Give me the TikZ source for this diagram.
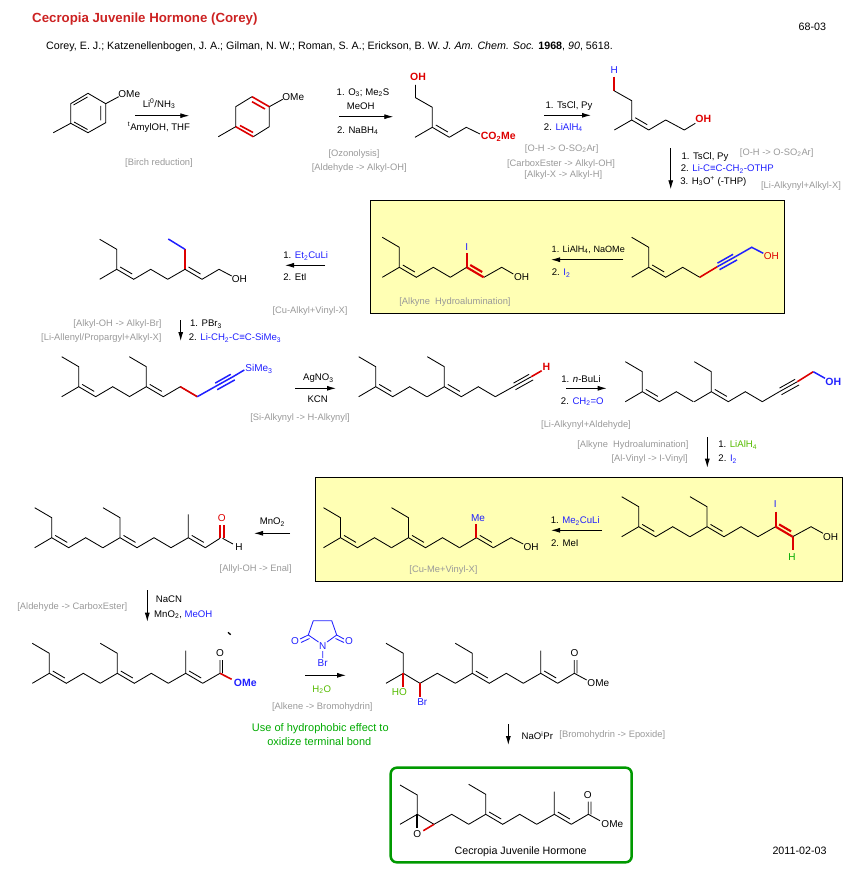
\documentclass[tikz,border=0pt]{standalone}
\usepackage{fontspec}
\setmainfont{Liberation Sans}
\usetikzlibrary{arrows.meta}
\definecolor{chemred}{HTML}{DD0000}
\definecolor{titlered}{HTML}{CC2222}
\definecolor{chemblue}{HTML}{2020FF}
\definecolor{chemgreen}{HTML}{00AA00}
\definecolor{limegreen}{HTML}{55BB00}
\definecolor{tagcol}{HTML}{999999}
\definecolor{boxyellow}{HTML}{FFFFB4}
\tikzset{
  bond/.style={line width=0.85pt,black},
  redbond/.style={line width=2.1pt,chemred},
  bluebond/.style={line width=1.5pt,chemblue},
  rxn/.style={line width=0.85pt,-{Latex[length=9pt,width=5pt]}},
  txt/.style={font=\fontsize{9.6}{11}\selectfont,inner sep=0pt,text height=7pt,text depth=0pt},
  bigtxt/.style={txt,font=\fontsize{10.7}{12}\selectfont},
  tag/.style={txt,font=\fontsize{9.35}{11}\selectfont,text=tagcol},
  atom/.style={txt,font=\fontsize{10}{11}\selectfont},
  boldatom/.style={txt,font=\fontsize{10.5}{11}\selectfont\bfseries},
  pics/prenyl/.style={code={
    \draw[bond] (-17,-30) -- (0,-20) -- (0,0) -- (17,10) -- (34,0) -- (51,10) (-17,10) -- (0,0) (3.5,-2.3) -- (15.5,4.7);}},
  pics/ene/.style={code={\draw[#1] (0,0) -- (17,10) (3.5,-2.3) -- (15.5,4.7);}},
  pics/ene/.default=bond,
  pics/yne/.style={code={\draw[#1] (0,0) -- (18,-10) (0.2,-3.6) -- (15.8,-12.4) (2.2,3) -- (19.8,-6.8);}},
  pics/yne/.default=bond,
}
\begin{document}
\begin{tikzpicture}[x=1pt,y=-1pt]
\useasboundingbox (0,0) rectangle (854,869);
% boxes
\fill[boxyellow] (370.7,200.7) rectangle (784.3,313.3);
\draw[line width=1pt] (370.7,200.7) rectangle (784.3,313.3);
\fill[boxyellow] (315.3,477.3) rectangle (842.3,581.7);
\draw[line width=1pt] (315.3,477.3) rectangle (842.3,581.7);
\draw[line width=2.5pt,chemgreen!90!black,rounded corners=6pt] (390.7,767.7) rectangle (631.7,862.3);

% header
\node[inner sep=0pt,anchor=west,text=titlered,font=\fontsize{13.25}{15}\selectfont\bfseries] (title) at (32,19.5) {Cecropia Juvenile Hormone (Corey)};
\node[bigtxt,anchor=west] (cite) at (46,46) {Corey, E. J.; Katzenellenbogen, J. A.; Gilman, N. W.; Roman, S. A.; Erickson, B. W. \textit{J. Am. Chem. Soc.} \textbf{1968}, \textit{90}, 5618.};
\node[bigtxt] (refno) at (812.3,27.3) {68-03};
\node[bigtxt] (datestamp) at (799.5,851) {2011-02-03};

% anisole
\draw[bond] (118.7,96.7) -- (105.7,103.7) -- (88,93.3) -- (70.7,103.7) -- (70.7,123.3) -- (88,132.7) -- (105.7,122.7) -- (105.7,103.7) (70.7,123.3) -- (53.3,132.7);
\draw[bond] (73.5,105) -- (87.5,97) (100.7,106) -- (100.7,120.5) (74,122) -- (87.5,129.5);
\node[atom] (ome1) at (129.3,93.7) {OMe};
\coordinate (birchS) at (135,115.7);
\coordinate (birchE) at (189.3,115.7);
\draw[rxn] (birchS) -- (birchE);
\node[txt] (birchA) at (159,104) {Li\textsuperscript{0}/NH\textsubscript{3}};
\node[txt] (birchB) at (159,126.7) {\textsuperscript{t}AmylOH, THF};
\node[tag] (birchT) at (159,162) {[Birch reduction]};

% diene
\draw[bond] (282.7,99.3) -- (269.3,106.7) -- (269.3,126.7) -- (253.3,136.7) (252,96.7) -- (235.7,106.7) -- (235.7,126.7) -- (218.3,136.7);
\draw[redbond,line width=1.6pt] (252,96.7) -- (269.3,106.7) (252,101.7) -- (265,109) (235.7,126.7) -- (253.3,136.7) (240,125.5) -- (253,132.5);
\node[atom] (ome2) at (293.3,97) {OMe};
\coordinate (ozoS) at (339,116.7);
\coordinate (ozoE) at (393.3,116.7);
\draw[rxn] (ozoS) -- (ozoE);
\node[txt] (ozoA) at (363,92) {1. O\textsubscript{3}; Me\textsubscript{2}S};
\node[txt] (ozoB) at (360.7,105.7) {MeOH};
\node[txt] (ozoC) at (357.7,130) {2. NaBH\textsubscript{4}};
\node[tag] (ozoT) at (354,153) {[Ozonolysis]};
\node[tag] (ozoU) at (359.3,166.7) {[Aldehyde -> Alkyl-OH]};

% hydroxy ester
\draw[bond] (415.5,85) -- (415.5,97.7) -- (432.3,107.3) -- (432.3,127.3) -- (415,137.3) (449.3,137.3) -- (466.3,127.3) -- (480,134);
\pic at (432.3,127.3) {ene};
\node[boldatom,text=chemred] (oh3) at (418,77) {OH};
\node[boldatom,text=chemred] (ester3) at (498.3,136.5) {CO\textsubscript{2}Me};
\coordinate (tsS) at (544,115.3);
\coordinate (tsE) at (591,115.3);
\draw[rxn] (tsS) -- (tsE);
\node[txt] (tsA) at (569,105) {1. TsCl, Py};
\node[txt] (tsB) at (563.3,126.7) {2. \textcolor{chemblue}{LiAlH\textsubscript{4}}};
\node[tag] (tsT) at (561.7,148) {[O-H -> O-SO\textsubscript{2}Ar]};
\node[tag] (tsU) at (561,162.7) {[CarboxEster -> Alkyl-OH]};
\node[tag] (tsV) at (563.3,174) {[Alkyl-X -> Alkyl-H]};

% alkene diol side
\draw[redbond] (614,76.7) -- (614,90.7);
\draw[bond] (614,90.7) -- (631.7,100.7) -- (631.7,120) -- (614.3,130) (648.7,130) -- (665.7,120) -- (684.3,130) -- (695.3,123.3);
\pic at (631.7,120) {ene};
\node[atom,text=chemblue] (h4) at (614.3,70) {H};
\node[boldatom,text=chemred] (oh4) at (703.3,119) {OH};
\coordinate (alkS) at (670.7,148.3);
\coordinate (alkE) at (670.7,189.3);
\draw[rxn] (alkS) -- (alkE);
\node[txt] (alkA) at (705,156) {1. TsCl, Py};
\node[txt] (alkB) at (727.3,168.3) {2. \textcolor{chemblue}{Li-C≡C-CH\textsubscript{2}-OTHP}};
\node[txt] (alkC) at (713.3,181) {3. H\textsubscript{3}O\textsuperscript{+} (-THP)};
\node[tag] (alkT) at (776.7,152) {[O-H -> O-SO\textsubscript{2}Ar]};
\node[tag] (alkU) at (801,185) {[Li-Alkynyl+Alkyl-X]};

% alkynol in box
\pic at (648.7,267.3) {prenyl};
\draw[redbond,line width=1.6pt] (699.7,277.3) -- (717.3,266.7);
\pic at (717.3,266.7) {yne=bluebond};
\draw[bluebond] (735.3,256.7) -- (751.7,247.3) -- (763.3,253.3);
\node[atom,text=chemred] (oh7) at (771.3,256) {OH};
\coordinate (alaS) at (623.3,259.7);
\coordinate (alaE) at (551,259.7);
\draw[rxn] (alaS) -- (alaE);
\node[txt,font=\fontsize{9.1}{11}\selectfont] (alaA) at (588.3,249) {1. LiAlH\textsubscript{4}, NaOMe};
\node[txt] (alaB) at (561,272) {2. \textcolor{chemblue}{I\textsubscript{2}}};

% vinyl iodide in box
\pic at (399.3,267.3) {prenyl};
\draw[bond] (450.3,277.3) -- (466.7,267.3) (484,277.3) -- (501.7,267.3) -- (513.3,274);
\draw[redbond] (466.7,253.3) -- (466.7,267.3);
\pic at (466.7,267.3) {ene=redbond};
\node[atom,text=chemblue] (i6) at (466.7,246.7) {I};
\node[atom] (oh6) at (521.7,277.3) {OH};
\node[tag] (hydroT) at (455,301) {[Alkyne\ \ Hydroalumination]};
\coordinate (cuS) at (325,265.3);
\coordinate (cuE) at (285,265.3);
\draw[rxn] (cuS) -- (cuE);
\node[txt] (cuA) at (305.7,255) {1. \textcolor{chemblue}{Et\textsubscript{2}CuLi}};
\node[txt] (cuB) at (295,276.7) {2. EtI};
\node[tag] (cuT) at (310,310) {[Cu-Alkyl+Vinyl-X]};

% allylic alcohol
\pic at (116.7,269.3) {prenyl};
\draw[bond] (167.7,279.3) -- (185,269.3) (202,279.3) -- (219,269.3) -- (231.7,276);
\pic at (185,269.3) {ene};
\draw[redbond] (185,269.3) -- (185,249.3);
\draw[bluebond] (185,249.3) -- (168.3,239);
\node[atom] (oh5) at (239.3,279.3) {OH};
\coordinate (brS) at (180.7,320);
\coordinate (brE) at (180.7,341);
\draw[rxn] (brS) -- (brE);
\node[txt] (brA) at (206,323.3) {1. PBr\textsubscript{3}};
\node[txt] (brB) at (235,337) {2. \textcolor{chemblue}{Li-CH\textsubscript{2}-C≡C-SiMe\textsubscript{3}}};
\node[tag,anchor=east] (brT) at (161.7,323.3) {[Alkyl-OH -> Alkyl-Br]};
\node[tag,anchor=east] (brU) at (161.7,336.7) {[Li-Allenyl/Propargyl+Alkyl-X]};

% silyl alkyne
\pic at (78.7,386.7) {prenyl};
\pic at (146.3,386.7) {prenyl};
\draw[redbond,line width=1.6pt] (180.3,386.7) -- (197.3,396.7);
\draw[bluebond] (197.3,396.7) -- (215,386.7);
\pic at (215,386.7) {yne=bluebond};
\draw[bluebond] (233,376.7) -- (244.3,370);
\node[atom,text=chemblue] (si8) at (259,368.3) {SiMe\textsubscript{3}};
\coordinate (agS) at (295,388.3);
\coordinate (agE) at (336,388.3);
\draw[rxn] (agS) -- (agE);
\node[txt] (agA) at (318.3,377.3) {AgNO\textsubscript{3}};
\node[txt] (agB) at (317.7,398.7) {KCN};
\node[tag] (agT) at (300,417) {[Si-Alkynyl -> H-Alkynyl]};

% terminal alkyne
\pic at (375.7,386.7) {prenyl};
\pic at (444.3,386.7) {prenyl};
\draw[bond] (495.3,396.7) -- (513.3,386.7);
\pic at (513.3,386.7) {yne};
\draw[redbond,line width=1.6pt] (531.3,376.7) -- (541.7,370.7);
\node[boldatom,text=chemred] (h9) at (546.5,367) {H};
\coordinate (buS) at (566,388.3);
\coordinate (buE) at (606.7,388.3);
\draw[rxn] (buS) -- (buE);
\node[txt] (buA) at (581,378.7) {1. \textit{n}-BuLi};
\node[txt] (buB) at (582.3,400.7) {2. \textcolor{chemblue}{CH\textsubscript{2}=O}};
\node[tag] (buT) at (586,424) {[Li-Alkynyl+Aldehyde]};

% propargyl alcohol
\pic at (642.3,391.7) {prenyl};
\pic at (711.3,391.7) {prenyl};
\draw[bond] (762.3,401.7) -- (779.3,391.7);
\pic at (779.3,391.7) {yne};
\draw[redbond,line width=1.6pt] (797.3,381.7) -- (813.3,371.7);
\draw[bluebond] (813.3,371.7) -- (825,378.3);
\node[boldatom,text=chemblue] (oh10) at (833.3,382) {OH};
\coordinate (lahS) at (707.3,437.3);
\coordinate (lahE) at (707.3,467.7);
\draw[rxn] (lahS) -- (lahE);
\node[txt] (lahA) at (737.7,444) {1. \textcolor{limegreen}{LiAlH\textsubscript{4}}};
\node[txt] (lahB) at (727.7,458) {2. \textcolor{chemblue}{I\textsubscript{2}}};
\node[tag,anchor=east] (lahT) at (688.7,444) {[Alkyne\ \ Hydroalumination]};
\node[tag,anchor=east] (lahU) at (688,458) {[Al-Vinyl -> I-Vinyl]};

% iodo alkene in box
\pic at (638.7,526.7) {prenyl};
\pic at (707,526.7) {prenyl};
\draw[bond] (758,536.7) -- (775.6,526.7) (792.6,536.7) -- (811,526.7) -- (823,533.3);
\pic at (775.6,526.7) {ene=redbond};
\draw[redbond] (775.6,511.7) -- (775.6,526.7) (792.6,536.7) -- (792.6,550);
\node[atom,text=chemblue] (i12) at (775.3,504) {I};
\node[atom,text=chemgreen] (h12) at (792,556.5) {H};
\node[atom] (oh12) at (830.5,536.7) {OH};
\coordinate (meS) at (602,530.3);
\coordinate (meE) at (551,530.3);
\draw[rxn] (meS) -- (meE);
\node[txt] (meA) at (575.2,520) {1. \textcolor{chemblue}{Me\textsubscript{2}CuLi}};
\node[txt] (meB) at (564.8,543.3) {2. MeI};

% methylated alcohol in box
\pic at (340.5,537.7) {prenyl};
\pic at (408.5,537.7) {prenyl};
\draw[bond] (459.5,547.7) -- (476.4,537.7) (493.4,547.7) -- (511,537.7) -- (523.2,544);
\pic at (476.4,537.7) {ene};
\draw[redbond] (476.4,537.7) -- (476.4,524);
\node[atom,text=chemblue] (me11) at (478,518.3) {Me};
\node[atom] (oh11) at (531.2,547.3) {OH};
\node[tag] (meT) at (443.5,569.3) {[Cu-Me+Vinyl-X]};
\coordinate (mnS) at (290,533.3);
\coordinate (mnE) at (254,533.3);
\draw[rxn] (mnS) -- (mnE);
\node[txt] (mnA) at (272.3,521) {MnO\textsubscript{2}};
\node[tag] (mnT) at (255.7,567.7) {[Allyl-OH -> Enal]};

% enal
\pic at (51.7,537.7) {prenyl};
\pic at (120,537.7) {prenyl};
\draw[bond] (171,547.7) -- (188.3,537.7) -- (188.3,514.3) (205.3,547.7) -- (220,538.3) (222.5,538.3) -- (233,544);
\pic at (188.3,537.7) {ene};
\draw[redbond,line width=1.6pt] (219.8,538.3) -- (219.8,525) (224,538.3) -- (224,525);
\node[atom,text=chemred] (o13) at (221.7,518.3) {O};
\node[atom] (h13) at (239,547.3) {H};
\coordinate (cnS) at (147.3,590);
\coordinate (cnE) at (147.3,621.7);
\draw[rxn] (cnS) -- (cnE);
\node[txt] (cnA) at (169,598.7) {NaCN};
\node[txt] (cnB) at (183.3,613.7) {MnO\textsubscript{2}, \textcolor{chemblue}{MeOH}};
\node[tag] (cnT) at (72.3,606) {[Aldehyde -> CarboxEster]};

% methyl ester
\pic at (49.3,673.3) {prenyl};
\pic at (117.3,673.3) {prenyl};
\draw[bond] (168.3,683.3) -- (185.7,673.3) -- (185.7,650.7) (202.7,683.3) -- (220,673.3) -- (220,660) (222.5,673.3) -- (222.5,660);
\pic at (185.7,673.3) {ene};
\draw[redbond,line width=1.6pt] (220,673.3) -- (231.7,679.3);
\node[atom] (o14) at (220,653) {O};
\node[boldatom,text=chemblue] (ome14) at (245.3,683.3) {OMe};
\draw[line width=1.3pt] (228,632.3) -- (230.7,634.7);

% NBS
\draw[chemblue,line width=0.85pt] (300,639) -- (308.3,635) -- (313.3,620.7) -- (331.7,620.7) -- (336.7,635) -- (344,639) (308.3,635) -- (318.5,642) (336.7,635) -- (327,642) (322.7,651) -- (322.7,658) (301,642.5) -- (309.5,638.5) (335.5,638.5) -- (344,642.5);
\node[atom,text=chemblue] (nbsOl) at (295,640.7) {O};
\node[atom,text=chemblue] (nbsOr) at (349,640.7) {O};
\node[atom,text=chemblue] (nbsN) at (322.7,646) {N};
\node[atom,text=chemblue] (nbsBr) at (322.7,663.3) {Br};
\coordinate (nbsS) at (305,675.3);
\coordinate (nbsE) at (346,675.3);
\draw[rxn] (nbsS) -- (nbsE);
\node[txt,text=limegreen] (nbsB) at (321.7,688.7) {H\textsubscript{2}O};
\node[tag] (nbsT) at (322.3,706) {[Alkene -> Bromohydrin]};
\node[txt,font=\fontsize{11}{12}\selectfont,text=chemgreen] (noteA) at (320.3,728.3) {Use of hydrophobic effect to};
\node[txt,font=\fontsize{11}{12}\selectfont,text=chemgreen] (noteB) at (319.3,742.3) {oxidize terminal bond};

% bromohydrin
\draw[bond] (386,643.3) -- (403.3,653.3) -- (403.3,673.3) -- (386,683.3) (403.3,673.3) -- (420,683.3) -- (437.3,673.3) -- (455.3,683.3) (523.3,683.3) -- (540.7,673.3) -- (540.7,650.7) (557.7,683.3) -- (574.3,673.3) -- (586.7,680) (574.3,673.3) -- (574.3,660) (577,673.3) -- (577,660);
\pic at (472.3,673.3) {prenyl};
\pic at (540.7,673.3) {ene};
\draw[redbond] (403.3,673.3) -- (403.3,687.3) (420,683.3) -- (420,697.3);
\node[atom,text=limegreen] (ho15) at (399.3,692) {HO};
\node[atom,text=chemblue] (br15) at (422.3,702.3) {Br};
\node[atom] (o15) at (574.5,653.3) {O};
\node[atom] (ome15) at (598.3,683.3) {OMe};
\coordinate (ipS) at (508.3,724.3);
\coordinate (ipE) at (508.3,745);
\draw[rxn] (ipS) -- (ipE);
\node[txt] (ipA) at (537.3,736.3) {NaO\textsuperscript{i}Pr};
\node[tag] (ipT) at (612.3,734) {[Bromohydrin -> Epoxide]};

% target
\draw[bond] (400,785) -- (417.3,795) -- (417.3,814.3) -- (400,824.3) (417.3,814.3) -- (434,824.3) -- (451.7,814.3) -- (468.7,824.3) (536.7,824.3) -- (554.3,814.3) -- (554.3,791.7) (571.3,824.3) -- (588.3,814.3) -- (600,820.7) (588.3,814.3) -- (588.3,801.7) (591,814.3) -- (591,801.7);
\pic at (485.7,814.3) {prenyl};
\pic at (554.3,814.3) {ene};
\draw[line width=2pt] (417.3,814.3) -- (417.3,828);
\draw[redbond,line width=1.6pt] (434,824.3) -- (423.3,830.7);
\node[atom] (o16) at (417.3,834) {O};
\node[atom] (o16b) at (587.7,795) {O};
\node[atom] (ome16) at (612.3,824) {OMe};
\node[bigtxt] (targetT) at (520.7,851) {Cecropia Juvenile Hormone};
\end{tikzpicture}
\end{document}
